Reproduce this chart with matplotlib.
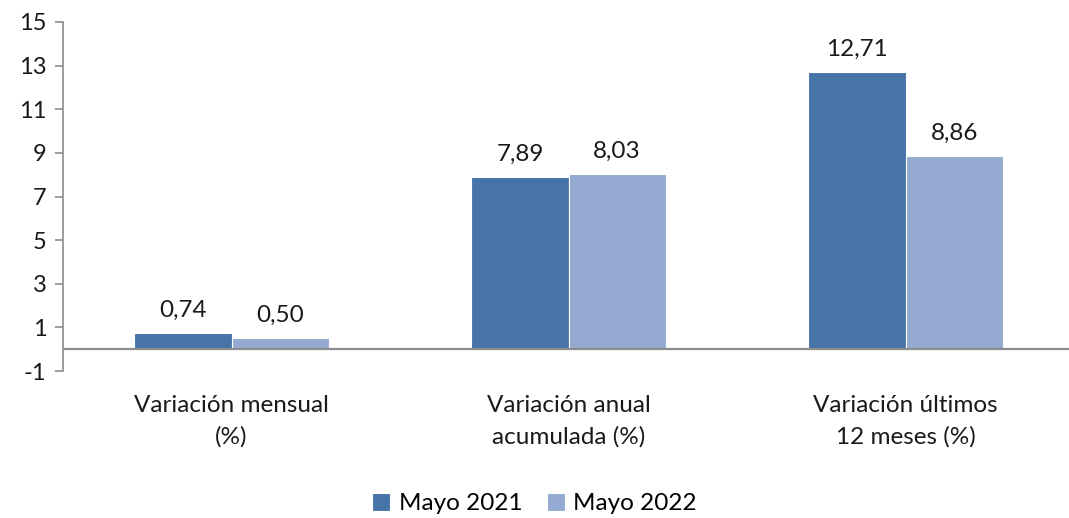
import numpy as np
import matplotlib.pyplot as plt

# --------------------------------------------------
# Data
# --------------------------------------------------

CATEGORIES = [
    "Variación mensual\n(%)",
    "Variación anual\nacumulada (%)",
    "Variación últimos\n12 meses (%)",
]

SERIES_NAMES = ["Mayo 2021", "Mayo 2022"]

MAYO_2021 = [0.74, 7.89, 12.71]
MAYO_2022 = [0.50, 8.03, 8.86]

Y_TICKS = [-1, 1, 3, 5, 7, 9, 11, 13, 15]

COLORS = ["#4674A8", "#95AAD1"]

plt.rcParams["font.family"] = ["Lato", "DejaVu Sans"]

# --------------------------------------------------
# Figure
# --------------------------------------------------

fig = plt.figure(figsize=(10.69, 5.18), dpi=100)
ax = fig.add_axes([63 / 1069, 147 / 518, 1006 / 1069, 349 / 518])

x = np.arange(len(CATEGORIES))
width = 0.288

for i, (name, values) in enumerate(zip(SERIES_NAMES, [MAYO_2021, MAYO_2022])):
    offset = (i - 0.5) * width
    bars = ax.bar(
        x + offset,
        values,
        width=width,
        color=COLORS[i],
        edgecolor="white",
        linewidth=0.8,
        label=name,
        zorder=2,
    )
    for rect, v in zip(bars, values):
        ax.annotate(
            f"{v:.2f}".replace(".", ","),
            (rect.get_x() + rect.get_width() / 2, v),
            xytext=(0, 9),
            textcoords="offset points",
            ha="center",
            va="bottom",
            fontsize=17.5,
            color="#1a1a1a",
        )

ax.set_xlim(-0.5, 2.485)
ax.set_ylim(-1, 15)
ax.set_yticks(Y_TICKS)
ax.set_yticklabels([str(t) for t in Y_TICKS], fontsize=17, color="#1a1a1a")

ax.axhline(0, color="#8c8c8c", linewidth=1.6, zorder=3)

ax.set_xticks([])
for side in ["top", "right", "bottom"]:
    ax.spines[side].set_visible(False)
ax.spines["left"].set_color("#8c8c8c")
ax.spines["left"].set_linewidth(1.2)
ax.tick_params(axis="y", length=6, width=1.2, color="#8c8c8c", pad=6)

for xi, label in zip(x, CATEGORIES):
    ax.text(
        xi,
        -2.1,
        label,
        ha="center",
        va="top",
        fontsize=17.5,
        color="#1a1a1a",
        linespacing=1.55,
    )

fig.legend(
    loc="lower center",
    bbox_to_anchor=(0.5, -0.035),
    ncol=2,
    frameon=False,
    fontsize=17.5,
    handlelength=0.75,
    handleheight=0.75,
    handletextpad=0.35,
    columnspacing=1.0,
)

fig.savefig("out.png", dpi=100)
